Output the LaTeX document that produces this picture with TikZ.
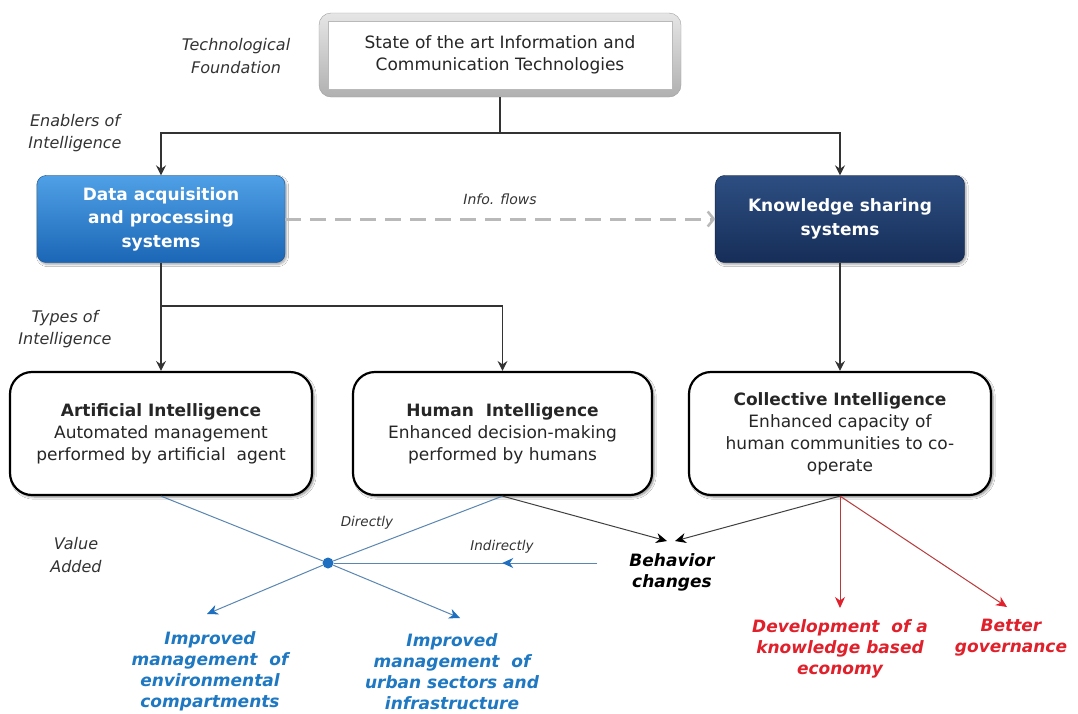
\documentclass[tikz,border=0pt]{standalone}
\usepackage{fontspec}
\setmainfont{DejaVu Sans}
\usetikzlibrary{arrows.meta,shadows.blur,decorations.markings}
\definecolor{labc}{HTML}{333333}
\definecolor{bluel}{HTML}{5A86B2}
\definecolor{bluet}{HTML}{1F6FC0}
\definecolor{bluetxt}{HTML}{1E78C2}
\definecolor{redl}{HTML}{B83A3A}
\definecolor{redt}{HTML}{E0202A}
\definecolor{dapTop}{HTML}{4FA0E6}
\definecolor{dapBot}{HTML}{1B66B6}
\definecolor{ksTop}{HTML}{2D4E82}
\definecolor{ksBot}{HTML}{162E58}
\newcommand{\fbody}{\fontsize{17}{22}\selectfont}
\newcommand{\fdat}{\fontsize{17}{23.5}\selectfont\bfseries}
\newcommand{\flab}{\fontsize{16}{22.5}\selectfont\itshape}
\newcommand{\fsmall}{\fontsize{13.5}{16}\selectfont\itshape}
\newcommand{\fout}{\fontsize{17}{21}\selectfont\bfseries\itshape}
\begin{document}
\begin{tikzpicture}[x=1pt,y=-1pt,
  ibox/.style={draw=black, line width=2.2pt, rounded corners=22pt, fill=white,
    minimum width=302pt, minimum height=123pt, align=center, font=\fbody, text=black!85,
    blur shadow={shadow xshift=2pt, shadow yshift=-2pt, shadow blur steps=6, shadow opacity=45}},
  sysbox/.style={rounded corners=9pt, minimum height=87pt, align=center, font=\fdat, text=white,
    blur shadow={shadow xshift=1.5pt, shadow yshift=-2pt, shadow blur steps=5, shadow opacity=35}},
  lab/.style={align=center, font=\flab, text=labc, inner sep=0pt},
  slab/.style={align=center, font=\fsmall, text=labc, inner sep=0pt},
  outb/.style={align=center, font=\fout, text=bluetxt, inner sep=0pt},
  outr/.style={align=center, font=\fout, text=redt, inner sep=0pt},
  conn/.style={draw=black!80, line width=1.2pt},
  arr/.style={conn, -{Stealth[length=10pt,width=10pt,inset=3.5pt]}},
  bline/.style={draw=bluel, line width=1pt},
  barr/.style={bline, -{Stealth[length=11pt,width=10pt,inset=3.5pt,color=bluet]}},
  karr/.style={draw=black!75, line width=1pt, -{Stealth[length=11pt,width=10pt,inset=3.5pt,color=black]}},
  rline/.style={draw=redl, line width=1pt},
  rarr/.style={rline, -{Stealth[length=11pt,width=10pt,inset=3.5pt,color=redt]}}
]
\useasboundingbox[fill=white] (0,0) rectangle (1078,713);

% top box
\node[draw=gray!75, rounded corners=12pt, top color=gray!20, bottom color=gray!62,
      minimum width=362pt, minimum height=84pt] (icto) at (500,55) {};
\node[draw=gray!55, fill=white, minimum width=344pt, minimum height=68pt, align=center,
      font=\fbody, text=black!85] (ict) at (500,55) {State of the art Information and\\Communication Technologies};

% systems boxes
\node[sysbox, minimum width=248pt, top color=dapTop, bottom color=dapBot, draw=dapBot!80!black] (dap) at (161,219)
  {Data acquisition\\and processing\\systems};
\node[sysbox, minimum width=249pt, top color=ksTop, bottom color=ksBot, draw=ksBot!80!black] (ks) at (840,219)
  {Knowledge sharing\\systems};

% intelligence boxes
\node[ibox] (ai) at (161,433.5) {\textbf{Artificial Intelligence}\\Automated management\\performed by artificial\ \ agent};
\node[ibox, minimum width=299pt] (hi) at (502.5,433.5) {\textbf{Human\ \ Intelligence}\\Enhanced decision-making\\performed by humans};
\node[ibox] (ci) at (840,433.5) {\textbf{Collective Intelligence}\\Enhanced capacity of\\human communities to co-\\operate};

% labels
\node[lab] (tf) at (236,56) {Technological\\Foundation};
\node[lab] (eoi) at (75,133) {Enablers of\\Intelligence};
\node[lab] (toi) at (65,329) {Types of\\Intelligence};
\node[lab] (va) at (76,555) {Value\\Added};
\node[slab, font=\fontsize{14}{16}\selectfont\itshape] (iff) at (500,199) {Info. flows};
\node[slab] (dir) at (367,523) {Directly};
\node[slab] (ind) at (502,547) {Indirectly};

% outcomes
\node[align=center, font=\fout, text=black, inner sep=0pt] (beh) at (672,572) {Behavior\\changes};
\node[outb] (env) at (210,671.5) {Improved\\management\ \ of\\environmental\\compartments};
\node[outb] (urb) at (452,671.5) {Improved\\management\ \ of\\urban sectors and\\infrastructure};
\node[outr] (dev) at (840,648.5) {Development\ \ of a\\knowledge based\\economy};
\node[outr] (gov) at (1011,637.5) {Better\\governance};

% tree connectors
\draw[conn] (icto.south) -- (500,133) coordinate (j1);
\draw[arr] (j1) -| (dap.north);
\draw[arr] (j1) -| (ks.north);
\draw[arr] (dap.south) -- (ai.north);
\coordinate (b1) at (161,306);
\draw[arr] (b1) -| (hi.north);
\draw[arr] (ks.south) -- (ci.north);

% info flows
\draw[draw=gray!55, line width=3pt, dash pattern=on 16pt off 9pt,
      -{Straight Barb[length=6pt,width=15pt,line width=2.5pt]}] (dap.east) -- (ks.west);

% value added
\node[circle, fill=bluet, inner sep=0pt, minimum size=11pt] (dot) at (328,563) {};
\coordinate (envtip) at (207,614);
\coordinate (urbtip) at (460,618);
\draw[bline] (ai.south) -- (dot);
\draw[barr] (dot) -- (urbtip);
\draw[bline] (hi.south) -- (dot);
\draw[barr] (dot) -- (envtip);
\coordinate (indst) at (597,563);
\draw[bline, postaction={decorate}, decoration={markings,
   mark=at position 0.36 with {\arrow{Stealth[length=11pt,width=10pt,inset=3.5pt,color=bluet]}}}]
   (indst) -- (dot);

% behavior changes
\coordinate (behl) at (667,541);
\coordinate (behr) at (675,541);
\draw[karr] (hi.south) -- (behl);
\draw[karr] (ci.south) -- (behr);

% red
\coordinate (devtip) at (840,608);
\coordinate (govtip) at (1007,607);
\draw[rarr] (ci.south) -- (devtip);
\draw[rarr] (ci.south) -- (govtip);
\end{tikzpicture}
\end{document}
